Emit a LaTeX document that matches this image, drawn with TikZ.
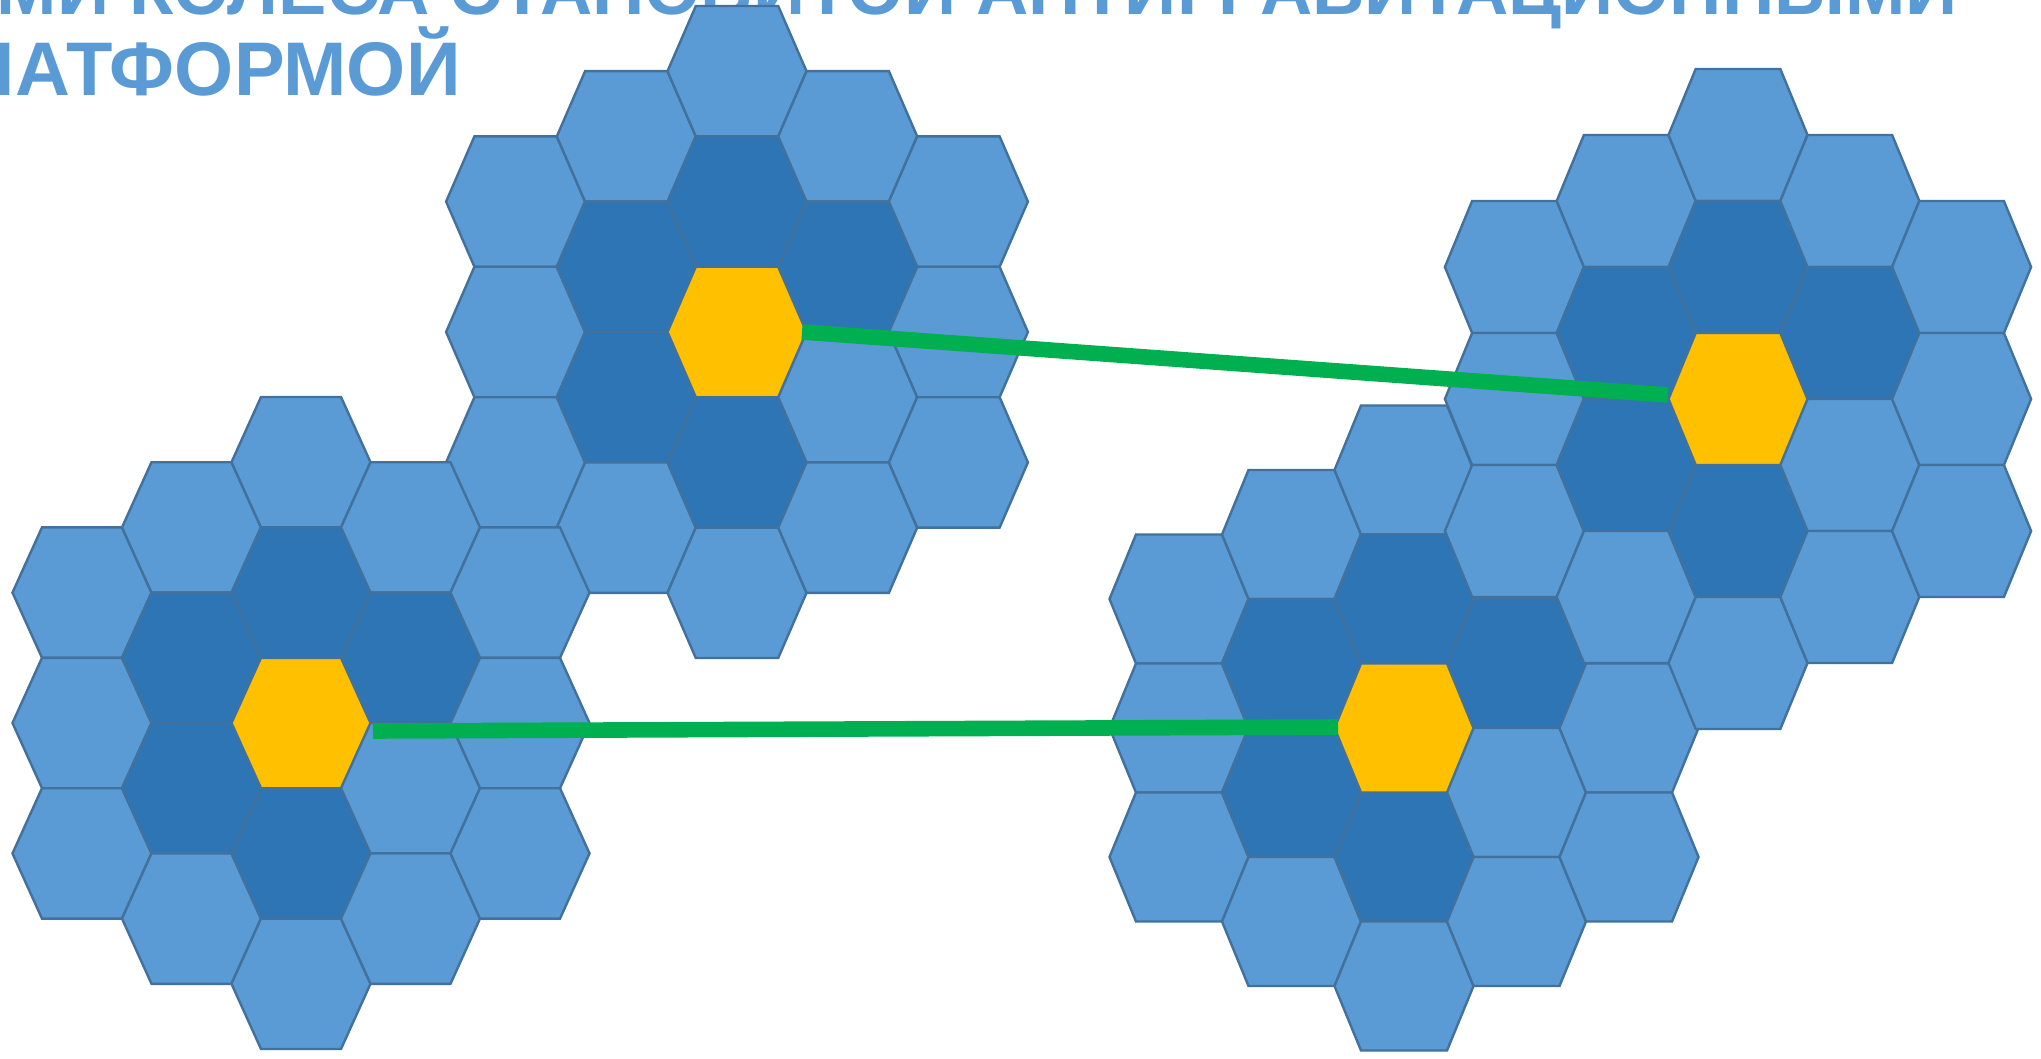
\documentclass[tikz,border=0pt]{standalone}
\usepackage{fontspec}
\setmainfont{Liberation Sans}
\definecolor{hexL}{HTML}{5B9BD5}
\definecolor{hexD}{HTML}{2E75B6}
\definecolor{hexY}{HTML}{FFC000}
\definecolor{hexO}{HTML}{41719C}
\definecolor{linkG}{HTML}{00B050}
\tikzset{
  hexcell/.style={draw=hexO, line width=1.2pt, line join=miter},
  centercell/.style={fill=hexY},
  link/.style={draw=linkG, line width=7.8pt},
  titletext/.style={text=hexL, font=\bfseries\fontsize{38}{38}\selectfont, inner sep=0pt},
}
% cx, cy, column spacing, row height, name
\newcommand{\hexcluster}[5]{%
  \pgfmathsetmacro{\hxa}{#3-69.5}%
  \pgfmathsetmacro{\hxh}{#4/2}%
  \fill[centercell, shift={(#1,#2)}]
    (-69,0) -- ({-\hxa+0.5},{-\hxh+0.5}) -- ({\hxa-0.5},{-\hxh+0.5}) -- (69,0) -- ({\hxa-0.5},{\hxh-0.5}) -- ({-\hxa+0.5},{\hxh-0.5}) -- cycle;
  \foreach \c/\r/\col in {-2/-1/hexL,-2/0/hexL,-2/1/hexL,
      -1/-1.5/hexL,-1/-0.5/hexD,-1/0.5/hexD,-1/1.5/hexL,
      0/-2/hexL,0/-1/hexD,0/1/hexD,0/2/hexL,
      1/-1.5/hexL,1/-0.5/hexD,1/0.5/hexL,1/1.5/hexL,
      2/-1/hexL,2/0/hexL,2/1/hexL}{
    \draw[hexcell, fill=\col, shift={({#1+\c*#3},{#2+\r*#4})}]
      (-69.5,0) -- (-\hxa,-\hxh) -- (\hxa,-\hxh) -- (69.5,0) -- (\hxa,\hxh) -- (-\hxa,\hxh) -- cycle;
  }
}
\begin{document}
\begin{tikzpicture}[x=0.5pt,y=-0.5pt]
  \useasboundingbox (0,0) rectangle (2041,1059);
  \fill[white] (0,0) rectangle (2041,1059);
  % title (partly outside the picture, as in the original)
  \node[titletext, anchor=base east, font=\bfseries\fontsize{36.2}{36.2}\selectfont] (title1) at (1958,15) {2-МИ КОЛЕСА СТАНОВИТОЙ АНТИГРАВИТАЦИОННЫМИ};
  \node[titletext, anchor=base east] (title2) at (461,96) {ПЛАТФОРМОЙ};
  % clusters
  \hexcluster{737}{332}{110.7}{130.4}{A}
  \hexcluster{301}{723}{109.5}{130.4}{C}
  \hexcluster{1404}{728}{112.5}{129}{B}
  \hexcluster{1738}{399}{111.8}{132}{D}
  % link end points
  \coordinate (A-e) at (802,332);
  \coordinate (D-w) at (1668,395);
  \coordinate (C-e) at (373,731);
  \coordinate (B-w) at (1338,727);
  \draw[link] (A-e) -- (D-w);
  \draw[link] (C-e) -- (B-w);
\end{tikzpicture}
\end{document}
